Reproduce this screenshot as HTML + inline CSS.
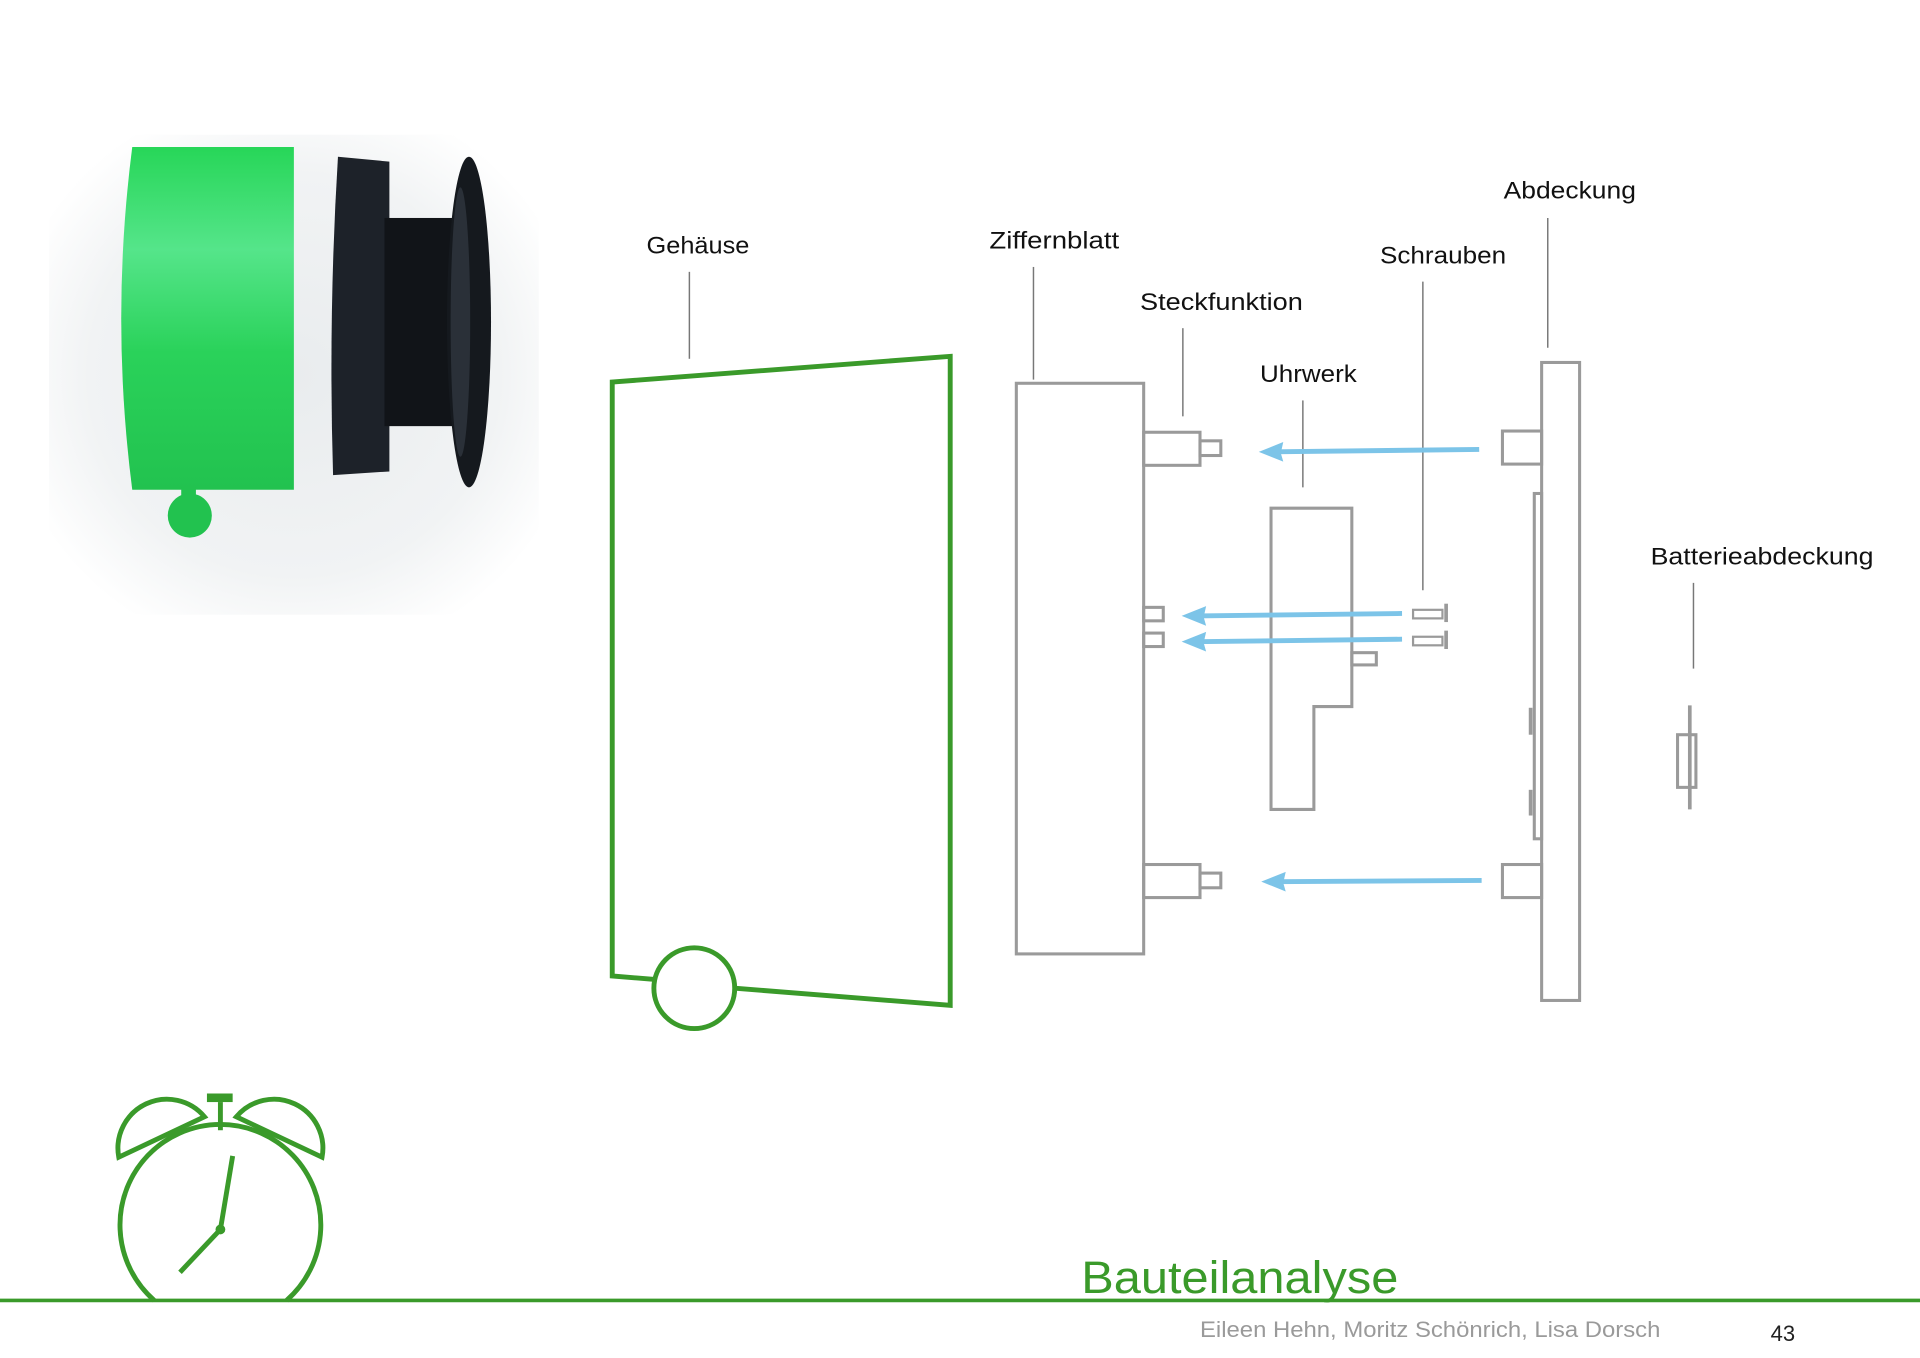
<!DOCTYPE html>
<html><head><meta charset="utf-8"><style>
html,body{margin:0;padding:0;background:#fff;}
svg{display:block;}
text{font-family:"Liberation Sans",sans-serif;}
</style></head><body>
<svg width="1920" height="1358" viewBox="0 0 1568 1109" preserveAspectRatio="none" xmlns="http://www.w3.org/2000/svg">
<defs>
<radialGradient id="bg" cx="0.5" cy="0.5" r="0.6">
<stop offset="0" stop-color="#e9ecee"/><stop offset="0.7" stop-color="#f1f3f4"/><stop offset="1" stop-color="#ffffff"/>
</radialGradient>
<linearGradient id="gr" x1="0" y1="0" x2="0" y2="1">
<stop offset="0" stop-color="#27d658"/><stop offset="0.3" stop-color="#55e58a"/><stop offset="0.6" stop-color="#2ad25a"/><stop offset="1" stop-color="#22c24f"/>
</linearGradient>
</defs>
<rect x="40" y="110" width="400" height="392" fill="url(#bg)"/>
<path d="M108,120 L240,120 L240,400 L108,400 Q90,260 108,120 Z" fill="url(#gr)"/>
<rect x="148" y="398" width="12" height="12" fill="#22c24f"/>
<circle cx="155" cy="421" r="18" fill="#22c24f"/>
<path d="M276,128 L318,132 L318,385 L272,388 Q268,258 276,128 Z" fill="#1d2229"/>
<rect x="314" y="178" width="60" height="170" fill="#111418"/>
<ellipse cx="383" cy="263" rx="18" ry="135" fill="#15191e"/>
<ellipse cx="376" cy="263" rx="8" ry="110" fill="#2a3038"/>
<g font-size="20" fill="#111">
<text x="528" y="207" textLength="84" lengthAdjust="spacingAndGlyphs">Gehäuse</text>
<text x="808" y="203" textLength="106" lengthAdjust="spacingAndGlyphs">Ziffernblatt</text>
<text x="931" y="253" textLength="133" lengthAdjust="spacingAndGlyphs">Steckfunktion</text>
<text x="1029" y="312" textLength="79" lengthAdjust="spacingAndGlyphs">Uhrwerk</text>
<text x="1127" y="215" textLength="103" lengthAdjust="spacingAndGlyphs">Schrauben</text>
<text x="1228" y="162" textLength="108" lengthAdjust="spacingAndGlyphs">Abdeckung</text>
<text x="1348" y="461" textLength="182" lengthAdjust="spacingAndGlyphs">Batterieabdeckung</text>
</g>
<g stroke="#777" stroke-width="1.2">
<line x1="563" y1="222" x2="563" y2="293"/>
<line x1="844" y1="218" x2="844" y2="310"/>
<line x1="966" y1="268" x2="966" y2="340"/>
<line x1="1064" y1="327" x2="1064" y2="398"/>
<line x1="1162" y1="230" x2="1162" y2="482"/>
<line x1="1264" y1="178" x2="1264" y2="284"/>
<line x1="1383" y1="476" x2="1383" y2="546"/>
</g>
<g fill="none" stroke="#3a9a2a" stroke-width="4">
<path d="M536,800 L500,797 L500,312 L776,291 L776,821 L600,807"/>
<circle cx="567" cy="807" r="33"/>
</g>
<g fill="none" stroke="#9a9a9a" stroke-width="2.5">
<rect x="830" y="313" width="104" height="466"/>
<rect x="934" y="353" width="46" height="27"/>
<rect x="980" y="360" width="17" height="12"/>
<rect x="934" y="706" width="46" height="27"/>
<rect x="980" y="713" width="17" height="12"/>
<rect x="934" y="496" width="16" height="11"/>
<rect x="934" y="517" width="16" height="11"/>
<path d="M1038,415 L1104,415 L1104,577 L1073,577 L1073,661 L1038,661 Z"/>
<rect x="1104" y="533" width="20" height="10"/>
<rect x="1259" y="296" width="31" height="521"/>
<rect x="1253" y="403" width="6" height="282"/>
<rect x="1227" y="352" width="32" height="27"/>
<rect x="1227" y="706" width="32" height="27"/>
<rect x="1370" y="600" width="15" height="43"/>
<rect x="1154" y="498" width="24" height="7" stroke-width="1.8"/>
<rect x="1154" y="520" width="24" height="7" stroke-width="1.8"/>
</g>
<g stroke="#9a9a9a" stroke-width="3">
<line x1="1181" y1="493" x2="1181" y2="508"/>
<line x1="1181" y1="515" x2="1181" y2="530"/>
<line x1="1250" y1="578" x2="1250" y2="600"/>
<line x1="1250" y1="645" x2="1250" y2="666"/>
<line x1="1380" y1="576" x2="1380" y2="661"/>
</g>
<g stroke="#7cc4e8" stroke-width="4" fill="#7cc4e8">
<line x1="1208" y1="367" x2="1040" y2="369"/>
<polygon points="1028,369 1048,361 1046,370 1048,377" stroke="none"/>
<line x1="1145" y1="501" x2="977" y2="503"/>
<polygon points="965,503 985,495 983,504 985,511" stroke="none"/>
<line x1="1145" y1="522" x2="977" y2="524"/>
<polygon points="965,524 985,516 983,525 985,532" stroke="none"/>
<line x1="1210" y1="719" x2="1042" y2="720"/>
<polygon points="1030,720 1050,712 1048,721 1050,728" stroke="none"/>
</g>
<g fill="none" stroke="#3a9a2a" stroke-width="4">
<path d="M126,1062 A82,82 0 1 1 234,1062"/>
<path d="M97,945 L167,912 A40,40 0 0 0 97,945 Z"/>
<path d="M193,912 L263,945 A40,40 0 0 0 193,912 Z"/>
<line x1="180" y1="900" x2="180" y2="923"/>
<line x1="190" y1="944" x2="180" y2="1004"/>
<line x1="180" y1="1004" x2="147" y2="1039"/>
</g>
<rect x="169" y="893" width="21" height="7" fill="#3a9a2a"/>
<circle cx="180" cy="1004" r="4" fill="#3a9a2a"/>
<line x1="0" y1="1062" x2="1568" y2="1062" stroke="#3a9a2a" stroke-width="3"/>
<text x="883" y="1056" font-size="37" fill="#3a9a2a" textLength="259" lengthAdjust="spacingAndGlyphs">Bauteilanalyse</text>
<text x="980" y="1092" font-size="18" fill="#9a9a9a" textLength="376" lengthAdjust="spacingAndGlyphs">Eileen Hehn, Moritz Schönrich, Lisa Dorsch</text>
<text x="1446" y="1095" font-size="18" fill="#222">43</text>
</svg>
</body></html>
